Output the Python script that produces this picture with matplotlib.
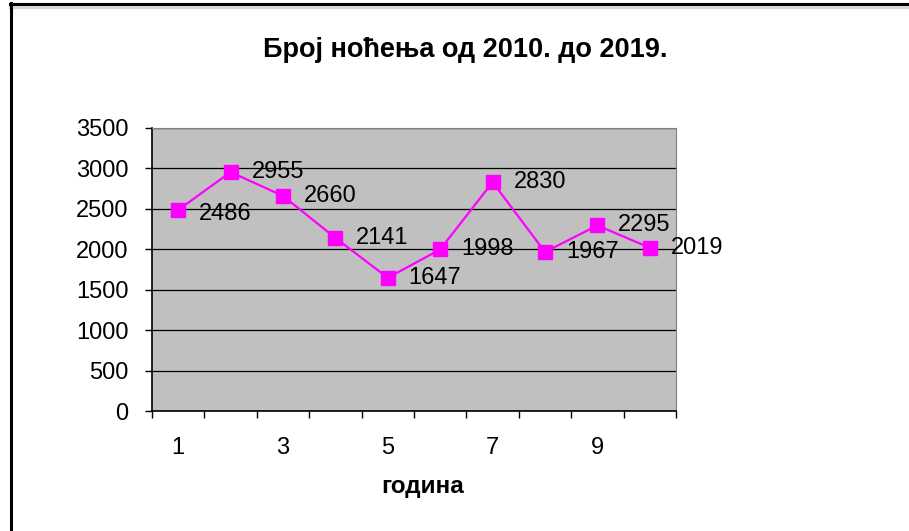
import matplotlib.pyplot as plt
from matplotlib.lines import Line2D
from matplotlib.ticker import FixedLocator, NullFormatter

plt.rcParams['font.family'] = ['Liberation Sans', 'DejaVu Sans']

years = list(range(1, 11))
nights = [2486, 2955, 2660, 2141, 1647, 1998, 2830, 1967, 2295, 2019]
xtick_labels = [1, 3, 5, 7, 9]
title = "Број ноћења од 2010. до 2019."
xlabel = "година"

W, H = 909, 531
fig = plt.figure(figsize=(W / 100, H / 100), dpi=100)
fig.patch.set_facecolor("white")

ax = fig.add_axes([152 / W, 1 - 411 / H, 524 / W, 283 / H])
ax.set_facecolor("#c0c0c0")

ax.plot(years, nights, color="#ff00ff", lw=1.6, marker="s", ms=9.5,
        markeredgecolor="#ff00ff", zorder=3)
for x, y in zip(years, nights):
    dy = -3 if y == 2486 else 0
    ax.annotate(str(y), (x, y), xytext=(15, dy), textcoords="offset points",
                ha="left", va="center", fontsize=17, color="black", zorder=4)

ax.set_xlim(0.5, 10.5)
ax.set_ylim(0, 3500)
ax.set_yticks(range(0, 3501, 500))
ax.yaxis.grid(True, color="black", lw=0.9)
ax.set_axisbelow(True)

# category ticks between points, labels on every other category
ax.xaxis.set_major_locator(FixedLocator([x + 0.5 for x in range(0, 11)]))
ax.xaxis.set_major_formatter(NullFormatter())
ax.xaxis.set_minor_locator(FixedLocator(xtick_labels))
ax.set_xticklabels([str(v) for v in xtick_labels], minor=True)
ax.tick_params(axis="x", which="major", direction="out", length=5, width=1)
ax.tick_params(axis="x", which="minor", length=0, pad=19, labelsize=17)
ax.tick_params(axis="y", direction="out", length=5, width=1, pad=12, labelsize=17)

for s in ["top", "right"]:
    ax.spines[s].set_color("#808080")
for s in ["left", "bottom"]:
    ax.spines[s].set_color("black")
    ax.spines[s].set_linewidth(1.2)

fig.text(465 / W, 1 - 50 / H, title, ha="center", va="center",
         fontsize=19.5, fontweight="bold")
fig.text(423 / W, 1 - 487 / H, xlabel, ha="center", va="center",
         fontsize=17.5, fontweight="bold")

# outer frame
fig.add_artist(Line2D([10 / W, 1], [1 - 6.5 / H] * 2, color="#d8d8d8", lw=2.5))
fig.add_artist(Line2D([10 / W, 1], [1 - 3.5 / H] * 2, color="black", lw=2.2))
fig.add_artist(Line2D([11 / W] * 2, [0, 1 - 3 / H], color="black", lw=2.2))

fig.savefig("out.png", dpi=100)
